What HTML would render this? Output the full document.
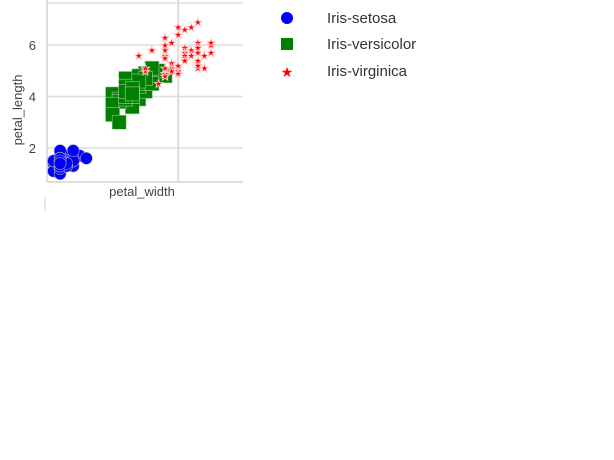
<!DOCTYPE html>
<html><head><meta charset="utf-8"><style>
body{margin:0;background:#fff;width:614px;height:460px;overflow:hidden;font-family:"Liberation Sans",sans-serif}
svg{position:absolute;left:0;top:0}
</style></head><body>
<svg id="c" width="614" height="460">
<g id="grid"></g>
<g id="marks"></g>
<text x="142" y="196" text-anchor="middle" font-size="13" fill="#444">petal_width</text>
<text transform="translate(22,110) rotate(-90)" text-anchor="middle" font-size="13" fill="#444">petal_length</text>
<line x1="45" y1="197" x2="45" y2="211" stroke="#ddd" stroke-width="1.5"/>
<g>
<g><circle cx="287" cy="18" r="6" fill="#0000ff"/><text x="327" y="23" font-size="15" fill="#333">Iris-setosa</text></g>
<g><rect x="281" y="38" width="12" height="12" fill="#007f00"/><text x="327" y="49" font-size="15" fill="#333">Iris-versicolor</text></g>
<g><text x="287" y="77" text-anchor="middle" font-size="14" fill="#ff0000">★</text><text x="327" y="76" font-size="15" fill="#333">Iris-virginica</text></g>
</g>
</svg>
<script>
const yTicks=[2,4,6];
const setosaL=[1.4,1.4,1.3,1.5,1.4,1.7,1.4,1.5,1.4,1.5,1.5,1.6,1.4,1.1,1.2,1.5,1.3,1.4,1.7,1.5,1.7,1.5,1.0,1.7,1.9,1.6,1.6,1.5,1.4,1.6,1.6,1.5,1.5,1.4,1.5,1.2,1.3,1.5,1.3,1.5,1.3,1.3,1.3,1.6,1.9,1.4,1.6,1.4,1.5,1.4];
const setosaW=[0.2,0.2,0.2,0.2,0.2,0.4,0.3,0.2,0.2,0.1,0.2,0.2,0.1,0.1,0.2,0.4,0.4,0.3,0.3,0.3,0.2,0.4,0.2,0.5,0.2,0.2,0.4,0.2,0.2,0.2,0.2,0.4,0.1,0.2,0.1,0.2,0.2,0.1,0.2,0.2,0.3,0.3,0.2,0.6,0.4,0.3,0.2,0.2,0.2,0.2];
const versL=[4.7,4.5,4.9,4.0,4.6,4.5,4.7,3.3,4.6,3.9,3.5,4.2,4.0,4.7,3.6,4.4,4.5,4.1,4.5,3.9,4.8,4.0,4.9,4.7,4.3,4.4,4.8,5.0,4.5,3.5,3.8,3.7,3.9,5.1,4.5,4.5,4.7,4.4,4.1,4.0,4.4,4.6,4.0,3.3,4.2,4.2,4.2,4.3,3.0,4.1];
const versW=[1.4,1.5,1.5,1.3,1.5,1.3,1.6,1.0,1.3,1.4,1.0,1.5,1.0,1.4,1.3,1.4,1.5,1.0,1.5,1.1,1.8,1.3,1.5,1.2,1.3,1.4,1.4,1.7,1.5,1.0,1.1,1.0,1.2,1.6,1.5,1.6,1.5,1.3,1.3,1.3,1.2,1.4,1.2,1.0,1.3,1.2,1.3,1.3,1.1,1.3];
const virgL=[6.0,5.1,5.9,5.6,5.8,6.6,4.5,6.3,5.8,6.1,5.1,5.3,5.5,5.0,5.1,5.3,5.5,6.7,6.9,5.0,5.7,4.9,6.7,4.9,5.7,6.0,4.8,4.9,5.6,5.8,6.1,6.4,5.6,5.1,5.6,6.1,5.6,5.5,4.8,5.4,5.6,5.1,5.1,5.9,5.7,5.2,5.0,5.2,5.4,5.1];
const virgW=[2.5,1.9,2.1,1.8,2.2,2.1,1.7,1.8,1.8,2.5,2.0,1.9,2.1,2.0,2.4,2.3,1.8,2.2,2.3,1.5,2.3,2.0,2.0,1.8,2.1,1.8,1.8,1.8,2.1,1.6,1.9,2.0,2.2,1.5,1.4,2.3,2.4,1.8,1.8,2.1,2.4,2.3,1.9,2.3,2.5,2.3,1.9,2.0,2.3,1.8];
const NS='http://www.w3.org/2000/svg';
const xs=w=>47+65.6*w, ys=l=>148-(l-2)*25.75;
const grid=document.getElementById('grid'), marks=document.getElementById('marks');
function mk(t,a,p){const e=document.createElementNS(NS,t);for(const k in a)e.setAttribute(k,a[k]);p.appendChild(e);return e;}
let e;
e=mk('line',{x1:47,y1:0,x2:47,y2:182,stroke:'#ddd','stroke-width':2},grid);


e=mk('line',{x1:47,y1:182,x2:243,y2:182,stroke:'#ddd','stroke-width':2},grid);


e=mk('line',{x1:47,y1:3,x2:243,y2:3,stroke:'#ddd','stroke-width':1.5},grid);


e=mk('line',{x1:xs(2),y1:0,x2:xs(2),y2:182,stroke:'#ddd','stroke-width':2},grid);


yTicks.forEach(v=>{
 e=mk('line',{x1:47,y1:ys(v),x2:243,y2:ys(v),stroke:'#ddd','stroke-width':1.5},grid);
 
 
 e=mk('text',{x:36,y:ys(v)+5,'text-anchor':'end','font-size':13,fill:'#444'},grid);
 e.textContent=v;
 
 
});
setosaL.forEach((l,i)=>{
 e=mk('circle',{cx:xs(setosaW[i]),cy:ys(l),r:6,fill:'#0000ff',stroke:'#aab','stroke-width':0.6},marks);
 
 
});
versL.forEach((l,i)=>{
 e=mk('rect',{x:xs(versW[i])-7,y:ys(l)-7,width:14,height:14,fill:'#007f00',stroke:'#9c9','stroke-width':0.6},marks);
 
 
});
virgL.forEach((l,i)=>{
 e=mk('text',{x:xs(virgW[i]),y:ys(l)+4,'text-anchor':'middle','font-size':11,fill:'#ff0000',stroke:'#fcc','stroke-width':0.8},marks);
 e.textContent='★';
 
 
});
</script>
</body></html>
